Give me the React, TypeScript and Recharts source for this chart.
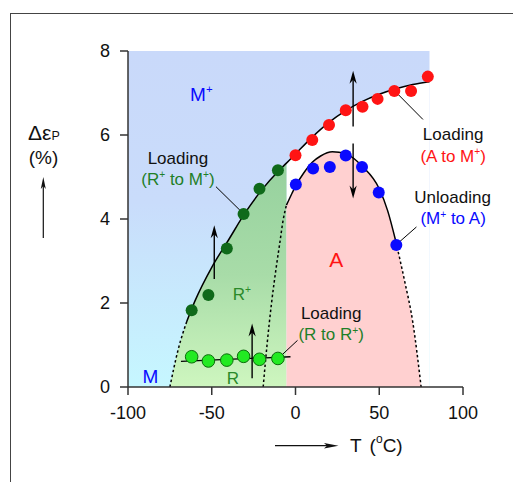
import React from 'react';
import { ComposedChart, Area, Line, Scatter, XAxis, YAxis } from 'recharts';

const FONT = '"Liberation Sans", Arial, Helvetica, sans-serif';

// ---------- data ----------
const xTicks = [-100, -50, 0, 50, 100];
const yTicks = [0, 2, 4, 6, 8];

// Loading A -> M+ (red)
const redT = [0, 10, 20, 30, 40, 49, 59, 69, 79];
const redE = [5.52, 5.88, 6.24, 6.59, 6.67, 6.86, 7.05, 7.05, 7.39];
// Unloading M+ -> A (blue)
const blueT = [0.2, 10.5, 20.5, 30, 39.7, 49.7, 60.2];
const blueE = [4.82, 5.2, 5.24, 5.51, 5.24, 4.63, 3.38];
// Loading R+ -> M+ (dark green)
const rPlusT = [-62, -52, -41, -31, -21.5, -10.5];
const rPlusE = [1.83, 2.19, 3.3, 4.12, 4.72, 5.16];
// Loading R -> R+ (light green)
const rT = [-62, -52, -41, -31, -21.5, -10.5];
const rE = [0.72, 0.62, 0.64, 0.73, 0.66, 0.68];
// fit line through R -> R+
const rFitT = [-68.4, -3];
const rFitE = [0.61, 0.72];

// upper phase boundary (M+ boundary)
const upperT = [-75, -70, -65, -60, -50, -40, -30, -20, -10, -5.4, 0, 10, 20, 30, 40, 50, 60, 70, 80];
const upperE = [0, 0.9, 1.55, 2.05, 2.85, 3.5, 4.15, 4.7, 5.15, 5.33, 5.55, 5.95, 6.3, 6.58, 6.8, 6.97, 7.1, 7.2, 7.27];
// dome (A boundary)
const domeT = [-19.3, -17, -14.3, -11.5, -9.4, -7.4, -5.4, -2, 0, 5, 10, 15, 22, 30, 40, 50, 55, 60, 65, 70, 75];
const domeE = [0, 1.0, 2.0, 2.85, 3.42, 3.97, 4.33, 4.62, 4.78, 5.1, 5.35, 5.5, 5.6, 5.55, 5.25, 4.72, 4.2, 3.45, 2.55, 1.55, 0];

const boundaryT = -5.4; // R+/A boundary temperature
const upperDashEnd = -65;
const domeSolidEnd = 60;
const mPlusT = [-100, 80];
const mPlusE = [8, 8];

// arrows: [T, from, to]
const arrowT = [-48.5, -25.9, 34.4, 34.4];
const arrowFrom = [2.57, 0.21, 6.2, 5.8];
const arrowTo = [3.85, 1.51, 7.53, 4.49];

// leader lines: [T1, E1, T2, E2]
const leaderT1 = [-47.5, 61.2, 62.2, -9.4];
const leaderE1 = [4.77, 6.97, 3.46, 0.715];
const leaderT2 = [-33.2, 76.1, 72.2, 1.2];
const leaderE2 = [4.21, 6.37, 3.81, 1.11];

// annotation texts ({..} = superscript)
const labelTexts = ['M{+}', 'Loading', '(R{+} to M{+})', 'Loading', '(A to M{+})', 'Unloading', '(M{+} to A)', 'A', 'R{+}', 'Loading', '(R to R{+})', 'M', 'R'];
const labelT = [-56.2, -70.2, -70.2, 94.1, 94.1, 93.8, 94.1, 24.3, -32, 21.3, 21.3, -86.6, -37.4];
const labelE = [6.82, 5.31, 4.82, 5.88, 5.36, 4.39, 3.87, 2.85, 2.08, 1.61, 1.11, 0.1, 0.08];

// ---------- styles ----------
const C_RED = '#ff1414';
const C_BLUE = '#0a0aff';
const C_DGREEN = '#0f6a1a';
const C_LGREEN = '#22ea22';
const C_TGREEN = '#1f7f28';
const DASH = '2.5 2.5';
const labelStyle = [
  { fill: C_BLUE, size: 19 },
  { fill: '#111', size: 17 },
  { fill: C_TGREEN, size: 17 },
  { fill: '#111', size: 17 },
  { fill: C_RED, size: 17 },
  { fill: '#111', size: 17 },
  { fill: C_BLUE, size: 17 },
  { fill: C_RED, size: 21 },
  { fill: '#2a8a2a', size: 17 },
  { fill: '#111', size: 17 },
  { fill: C_TGREEN, size: 17 },
  { fill: C_BLUE, size: 19 },
  { fill: '#2a8a2a', size: 17 },
];

const zip = (xs: number[], ys: number[]) => xs.map((x, i) => ({ x, y: ys[i] }));
const upper = zip(upperT, upperE);
const dome = zip(domeT, domeE);

function RichText({ x, y, text, fill, size }: any) {
  const parts = text.split(/(\{[^}]*\})/).filter((s: string) => s.length > 0);
  let raised = false;
  const nodes = parts.map((p: string, i: number) => {
    if (p.startsWith('{')) {
      raised = true;
      return (
        <tspan key={i} fontSize={size * 0.6} dy={-size * 0.38}>
          {p.slice(1, -1)}
        </tspan>
      );
    }
    const dy = raised ? size * 0.38 : 0;
    raised = false;
    return (
      <tspan key={i} dy={dy} style={{ whiteSpace: 'pre' }}>
        {p}
      </tspan>
    );
  });
  return (
    <text x={x} y={y} fill={fill} fontSize={size} fontFamily={FONT} textAnchor="middle">
      {nodes}
    </text>
  );
}

const dot = (fill: string, r: number, stroke?: string) => (p: any) =>
  <circle cx={p.cx} cy={p.cy} r={r} fill={fill} stroke={stroke || 'none'} strokeWidth={stroke ? 1 : 0} />;

const arrowHead = (p: any) => {
  const d = p.payload.dir; // -1 up, 1 down (pixel direction)
  const L = 13, W = 3.6, N = 9;
  const { cx, cy } = p;
  const pts = `${cx},${cy} ${cx - W},${cy - d * L} ${cx},${cy - d * N} ${cx + W},${cy - d * L}`;
  return <polygon points={pts} fill="#000" />;
};

const labelShape = (p: any) => (
  <RichText x={p.cx} y={p.cy} text={p.payload.text} fill={p.payload.style.fill} size={p.payload.style.size} />
);

const YLabel = (props: any) => {
  const vb = props.viewBox || { x: 0, y: 51, width: 128, height: 336 };
  const x0 = vb.x;
  const y0 = vb.y;
  return (
    <g>
      <text x={x0 + 28} y={y0 + 88.5} fontFamily={FONT} fontSize={21} fill="#111">
        <tspan>Δε</tspan>
        <tspan fontSize={12.5}>P</tspan>
      </text>
      <text x={x0 + 43.5} y={y0 + 113} fontFamily={FONT} fontSize={19} fill="#111" textAnchor="middle">
        (%)
      </text>
      <line x1={x0 + 43.3} y1={y0 + 187} x2={x0 + 43.3} y2={y0 + 135} stroke="#111" strokeWidth={1.2} />
      <polygon
        points={`${x0 + 43.3},${y0 + 126} ${x0 + 40.8},${y0 + 138} ${x0 + 43.3},${y0 + 135} ${x0 + 45.8},${y0 + 138}`}
        fill="#111"
      />
    </g>
  );
};

const XLabel = (props: any) => {
  const vb = props.viewBox || { x: 128, y: 387, width: 335, height: 30 };
  const x0 = vb.x;
  const y0 = vb.y;
  const ay = y0 + 58.7;
  return (
    <g>
      <line x1={x0 + 147} y1={ay} x2={x0 + 200} y2={ay} stroke="#111" strokeWidth={1.2} />
      <polygon points={`${x0 + 210.5},${ay} ${x0 + 196},${ay - 2.8} ${x0 + 199},${ay} ${x0 + 196},${ay + 2.8}`} fill="#111" />
      <text x={x0 + 222} y={y0 + 64.7} fontFamily={FONT} fontSize={19} fill="#111">
        <tspan>T</tspan>
        <tspan dx={8}>(</tspan>
        <tspan fontSize={12} dy={-9}>o</tspan>
        <tspan dy={9}>C)</tspan>
      </text>
    </g>
  );
};

export default function App() {
  const mPlusRegion = zip(mPlusT, mPlusE);
  const whiteRegion = upper.filter((d) => d.x >= boundaryT);
  const rPlusRegion = upper.filter((d) => d.x <= boundaryT);
  const aRegion = dome.filter((d) => d.x >= boundaryT);
  const upperDashed = upper.filter((d) => d.x <= upperDashEnd);
  const upperSolid = upper.filter((d) => d.x >= upperDashEnd);
  const domeDashedL = dome.filter((d) => d.x <= boundaryT);
  const domeSolid = dome.filter((d) => d.x >= boundaryT && d.x <= domeSolidEnd);
  const domeDashedR = dome.filter((d) => d.x >= domeSolidEnd);
  const heads = arrowT.map((x, i) => ({ x, y: arrowTo[i], dir: arrowTo[i] > arrowFrom[i] ? -1 : 1 }));
  const labels = labelTexts.map((text, i) => ({ x: labelT[i], y: labelE[i], text, style: labelStyle[i] }));

  return (
    <div style={{ position: 'absolute', left: 0, top: 0, width: 513, height: 482, overflow: 'hidden', background: '#fff' }}>
      <div
        style={{
          position: 'absolute',
          left: 10,
          top: 13,
          width: 600,
          height: 600,
          borderTop: '1px solid #444',
          borderLeft: '1px solid #444',
        }}
      />
      <ComposedChart
        width={513}
        height={482}
        margin={{ top: 51, right: 50, bottom: 65, left: 0 }}
        style={{ position: 'absolute', left: 0, top: 0 }}
      >
        <defs>
          <linearGradient id="gBlue" x1="0" y1="0" x2="0" y2="1">
            <stop offset="0%" stopColor="#c9d9fa" />
            <stop offset="45%" stopColor="#c9dcfb" />
            <stop offset="100%" stopColor="#c6f7ff" />
          </linearGradient>
          <linearGradient id="gGreen" x1="0" y1="0" x2="0" y2="1">
            <stop offset="0%" stopColor="#96d19e" />
            <stop offset="50%" stopColor="#a8dca8" />
            <stop offset="100%" stopColor="#cef6bf" />
          </linearGradient>
        </defs>
        <XAxis
          type="number"
          dataKey="x"
          domain={[-100, 100]}
          ticks={xTicks}
          height={30}
          tickSize={8}
          tickMargin={11}
          stroke="#333"
          strokeWidth={1.5}
          tick={{ fontSize: 18, fill: '#111', fontFamily: FONT }}
          label={{ content: XLabel }}
        />
        <YAxis
          type="number"
          dataKey="y"
          domain={[0, 8]}
          ticks={yTicks}
          width={128}
          tickSize={8}
          tickMargin={10}
          stroke="#333"
          strokeWidth={1.5}
          tick={{ fontSize: 18, fill: '#111', fontFamily: FONT }}
          label={{ content: YLabel }}
        />

        <Area data={mPlusRegion} dataKey="y" type="linear" fill="url(#gBlue)" fillOpacity={1} stroke="none" isAnimationActive={false} activeDot={false} />
        <Area data={whiteRegion} dataKey="y" type="monotone" fill="#ffffff" fillOpacity={1} stroke="none" isAnimationActive={false} activeDot={false} />
        <Area data={rPlusRegion} dataKey="y" type="monotone" fill="url(#gGreen)" fillOpacity={1} stroke="none" isAnimationActive={false} activeDot={false} />
        <Area data={aRegion} dataKey="y" type="monotone" fill="#ffd0d0" fillOpacity={1} stroke="none" isAnimationActive={false} activeDot={false} />

        <Line data={upperDashed} dataKey="y" type="monotone" stroke="#000" strokeWidth={1.5} strokeDasharray={DASH} dot={false} activeDot={false} isAnimationActive={false} />
        <Line data={upperSolid} dataKey="y" type="monotone" stroke="#000" strokeWidth={1.5} dot={false} activeDot={false} isAnimationActive={false} />
        <Line data={domeDashedL} dataKey="y" type="monotone" stroke="#000" strokeWidth={1.5} strokeDasharray={DASH} dot={false} activeDot={false} isAnimationActive={false} />
        <Line data={domeSolid} dataKey="y" type="monotone" stroke="#000" strokeWidth={1.5} dot={false} activeDot={false} isAnimationActive={false} />
        <Line data={domeDashedR} dataKey="y" type="monotone" stroke="#000" strokeWidth={1.5} strokeDasharray={DASH} dot={false} activeDot={false} isAnimationActive={false} />
        <Line data={zip(rFitT, rFitE)} dataKey="y" type="linear" stroke="#000" strokeWidth={1.3} dot={false} activeDot={false} isAnimationActive={false} />

        {leaderT1.map((t, i) => (
          <Line
            key={'ld' + i}
            data={[{ x: t, y: leaderE1[i] }, { x: leaderT2[i], y: leaderE2[i] }]}
            dataKey="y"
            type="linear"
            stroke="#000"
            strokeWidth={1}
            dot={false}
            activeDot={false}
            isAnimationActive={false}
          />
        ))}

        <Scatter data={zip(rPlusT, rPlusE)} dataKey="y" shape={dot(C_DGREEN, 6)} isAnimationActive={false} />
        <Scatter data={zip(rT, rE)} dataKey="y" shape={dot(C_LGREEN, 6.3, '#0b6b0b')} isAnimationActive={false} />
        <Scatter data={zip(redT, redE)} dataKey="y" shape={dot(C_RED, 6)} isAnimationActive={false} />
        <Scatter data={zip(blueT, blueE)} dataKey="y" shape={dot(C_BLUE, 6)} isAnimationActive={false} />

        {arrowT.map((t, i) => (
          <Line
            key={'ar' + i}
            data={[{ x: t, y: arrowFrom[i] }, { x: t, y: arrowTo[i] + (arrowTo[i] > arrowFrom[i] ? -0.2 : 0.2) }]}
            dataKey="y"
            type="linear"
            stroke="#000"
            strokeWidth={1.4}
            dot={false}
            activeDot={false}
            isAnimationActive={false}
          />
        ))}
        <Scatter data={heads} dataKey="y" shape={arrowHead} isAnimationActive={false} />
        <Scatter data={labels} dataKey="y" shape={labelShape} isAnimationActive={false} />
      </ComposedChart>
    </div>
  );
}
